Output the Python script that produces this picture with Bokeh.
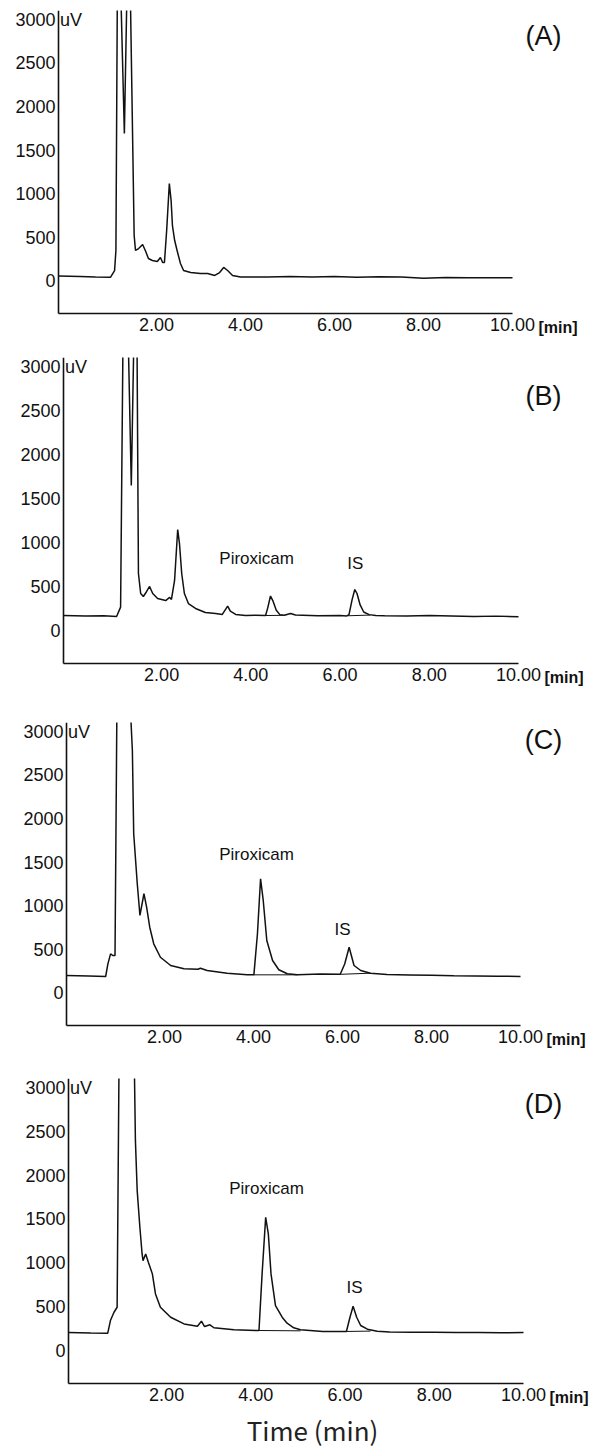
from bokeh.plotting import figure
from bokeh.layouts import column
from bokeh.models import Range1d, FixedTicker, Label
from bokeh.embed import file_html
from bokeh.resources import INLINE

# ---------------- data (time in min, signal in uV) ----------------
x_ticks = [2, 4, 6, 8, 10]
x_tick_labels = ["2.00", "4.00", "6.00", "8.00", "10.00"]
y_ticks = [0, 500, 1000, 1500, 2000, 2500, 3000]
y_tick_labels = ["0", "500", "1000", "1500", "2000", "2500", "3000"]

A_t = [-0.20, 0.29, 0.63, 0.97, 1.06, 1.09, 1.12, 1.16, 1.21, 1.28, 1.33, 1.37, 1.42, 1.50, 1.53,
       1.60, 1.69, 1.76, 1.82, 1.91, 2.02, 2.09, 2.14, 2.18, 2.23, 2.29, 2.33, 2.36, 2.41, 2.47,
       2.54, 2.61, 2.77, 2.99, 3.15, 3.31, 3.42, 3.51, 3.60, 3.71, 3.89, 4.5, 5.0, 5.5, 6.0, 6.5,
       7.0, 7.5, 8.0, 8.5, 9.0, 9.5, 10.0]
A_v = [55, 49, 44, 41, 118, 348, 3100, 6000, 3100, 1690, 3100, 6000, 3100, 520, 348,
       370, 416, 336, 256, 233, 221, 267, 210, 210, 577, 1116, 921, 634, 462, 336,
       198, 118, 95, 84, 84, 61, 95, 153, 118, 61, 44, 45, 48, 44, 50, 42,
       46, 44, 30, 38, 35, 36, 35]

B_t = [-0.20, 0.3, 0.7, 0.99, 1.08, 1.13, 1.19, 1.26, 1.32, 1.37, 1.40, 1.45, 1.48, 1.53, 1.59,
       1.66, 1.73, 1.80, 1.91, 2.09, 2.18, 2.22, 2.29, 2.36, 2.40, 2.45, 2.51, 2.60, 2.76, 2.98,
       3.21, 3.36, 3.48, 3.54, 3.66, 3.88, 4.10, 4.33, 4.38, 4.44, 4.50, 4.57, 4.65, 4.75, 4.89,
       5.0, 5.5, 6.0, 6.15, 6.20, 6.27, 6.33, 6.38, 6.45, 6.53, 6.65, 6.80, 7.0, 7.5, 8.0,
       8.5, 9.0, 9.5, 10.0]
B_v = [170, 165, 168, 159, 265, 3100, 6000, 3100, 1646, 3100, 6000, 3100, 647, 420, 386,
       440, 500, 420, 363, 340, 375, 352, 568, 1146, 987, 647, 420, 306, 250, 204,
       193, 182, 276, 219, 182, 170, 172, 170, 260, 392, 330, 230, 180, 172, 193,
       175, 168, 170, 165, 180, 350, 465, 420, 290, 210, 180, 170, 168, 165, 170,
       165, 160, 163, 155]

C_t = [-0.20, 0.3, 0.68, 0.73, 0.79, 0.84, 0.89, 0.93, 1.08, 1.25, 1.28, 1.31, 1.39, 1.45, 1.54,
       1.60, 1.67, 1.76, 1.91, 2.14, 2.44, 2.75, 2.81, 2.96, 3.41, 3.86, 4.01, 4.09, 4.16, 4.22,
       4.30, 4.43, 4.57, 4.76, 4.99, 5.5, 5.95, 6.05, 6.15, 6.26, 6.41, 6.63, 7.0, 7.5, 8.0,
       8.5, 9.0, 9.5, 10.0]
C_v = [198, 192, 187, 332, 447, 428, 428, 3100, 12000, 3100, 2779, 1824, 1250, 887, 1136,
       982, 752, 562, 408, 313, 275, 270, 282, 256, 225, 206, 206, 677, 1308, 1059,
       600, 370, 264, 218, 206, 215, 212, 330, 523, 313, 256, 225, 210, 205, 200,
       195, 192, 190, 188]

D_t = [-0.20, 0.3, 0.68, 0.74, 0.82, 0.89, 0.93, 1.10, 1.28, 1.30, 1.34, 1.40, 1.45, 1.47, 1.53,
       1.59, 1.68, 1.75, 1.86, 2.09, 2.39, 2.69, 2.78, 2.85, 2.97, 3.06, 3.51, 4.03, 4.07, 4.14,
       4.22, 4.28, 4.34, 4.44, 4.59, 4.70, 4.85, 5.00, 5.5, 6.03, 6.11, 6.18, 6.26, 6.35, 6.50,
       6.72, 7.0, 7.5, 8.0, 8.5, 9.0, 9.5, 10.0]
D_v = [205, 200, 198, 342, 437, 494, 3100, 12000, 3100, 2392, 1822, 1405, 1101, 1025, 1101,
       1007, 874, 646, 494, 380, 304, 278, 335, 274, 294, 260, 237, 229, 229, 874,
       1518, 1329, 874, 513, 380, 312, 260, 237, 218, 218, 380, 506, 380, 286, 244,
       221, 212, 208, 210, 205, 207, 203, 205]

# integration baselines drawn under the peaks: (t0, v0, t1, v1)
B_base = [(4.33, 170, 4.72, 172), (6.17, 167, 6.68, 175)]
C_base = [(4.01, 206, 4.99, 206), (5.95, 212, 6.63, 225)]
D_base = [(4.07, 229, 5.00, 225), (6.03, 218, 6.57, 222)]

# peak annotations: (text, t, v)
B_ann = [("Piroxicam", 4.13, 817), ("IS", 6.34, 760)]
C_ann = [("Piroxicam", 4.07, 1586), ("IS", 6.00, 726)]
D_ann = [("Piroxicam", 4.24, 1845), ("IS", 6.21, 718)]

panel_names = ["(A)", "(B)", "(C)", "(D)"]

# ---------------- layout ----------------
FONT = "Liberation Sans"
T0, T1 = -0.2, 10.0          # time axis extent
V0, V1 = -375, 3100          # signal axis extent
W = 604
PAGE_X0, PAGE_Y0 = 0, 0

# page-pixel geometry of each panel: figure top, figure height,
# axis left/right x, axis top/bottom y, panel-letter centre (px)
geo = [
    dict(t=A_t, v=A_v, base=[], ann=[], ft=0, h=347, L=58, R=512, T=10, B=313, let=(543, 35)),
    dict(t=B_t, v=B_v, base=B_base, ann=B_ann, ft=347, h=365, L=63, R=518, T=357, B=663, let=(543, 395)),
    dict(t=C_t, v=C_v, base=C_base, ann=C_ann, ft=712, h=356, L=66, R=520, T=722, B=1025, let=(543, 739)),
    dict(t=D_t, v=D_v, base=D_base, ann=D_ann, ft=1068, h=384, L=68, R=523, T=1078, B=1383, let=(543, 1103)),
]

figs = []
for i, g in enumerate(geo):
    kx = (g["R"] - g["L"]) / (T1 - T0)
    ky = (g["B"] - g["T"]) / (V1 - V0)
    xs = T0 - (g["L"] - PAGE_X0) / kx
    xe = T1 + (PAGE_X0 + W - g["R"]) / kx
    ys = V0 - (g["ft"] + g["h"] - g["B"]) / ky
    top_border = g["T"] - g["ft"]

    def px2t(px):
        return T0 + (px - g["L"]) / kx

    def py2v(py):
        return V0 + (g["B"] - py) / ky

    p = figure(width=W, height=g["h"], output_backend="svg", toolbar_location=None,
               x_range=Range1d(xs, xe), y_range=Range1d(ys, V1),
               min_border_top=top_border, min_border_bottom=0,
               min_border_left=0, min_border_right=0)
    p.outline_line_color = None
    p.grid.visible = False
    p.background_fill_color = "white"
    p.border_fill_color = "white"

    for ax in (p.xaxis[0], p.yaxis[0]):
        ax.axis_line_color = "#111111"
        ax.axis_line_width = 1.6
        ax.major_tick_line_color = None
        ax.minor_tick_line_color = None
        ax.major_tick_out = 0
        ax.major_tick_in = 0
        ax.major_label_text_font = FONT
        ax.major_label_text_font_size = "18px"
        ax.major_label_text_color = "#111111"
    xa, ya = p.xaxis[0], p.yaxis[0]
    xa.fixed_location = V0
    xa.bounds = (T0, T1)
    xa.ticker = FixedTicker(ticks=x_ticks)
    xa.major_label_overrides = dict(zip(x_ticks, x_tick_labels))
    xa.major_label_standoff = 4
    ya.fixed_location = T0
    ya.bounds = (V0, V1)
    ya.ticker = FixedTicker(ticks=y_ticks)
    ya.major_label_overrides = dict(zip(y_ticks, y_tick_labels))
    ya.major_label_standoff = 3

    p.line(g["t"], g["v"], line_color="#111111", line_width=1.5)
    for (t0, v0, t1, v1) in g["base"]:
        p.line([t0, t1], [v0, v1], line_color="#111111", line_width=1.0)

    for (txt, tx, vy) in g["ann"]:
        p.add_layout(Label(x=tx, y=vy, text=txt, text_align="center", text_baseline="middle",
                           text_font=FONT, text_font_size="17px", text_color="#111111"))

    p.add_layout(Label(x=T0 + 1.5 / kx, y=3000 - 1 / ky, text="uV", text_align="left",
                       text_baseline="middle", text_font=FONT, text_font_size="18px",
                       text_color="#111111"))
    p.add_layout(Label(x=T1 + 26 / kx, y=V0 - 5 / ky, text="[min]",
                       text_align="left", text_baseline="top", text_font=FONT,
                       text_font_size="16px", text_font_style="bold", text_color="#111111"))
    lx, ly = g["let"]
    p.add_layout(Label(x=px2t(lx), y=py2v(ly), text=panel_names[i], text_align="center",
                       text_baseline="middle", text_font=FONT, text_font_size="27px",
                       text_color="#111111"))
    if i == len(geo) - 1:
        p.add_layout(Label(x=px2t(312), y=py2v(1429), text="Time (min)", text_align="center",
                           text_baseline="middle", text_font="Noto Sans CJK KR",
                           text_font_size="26px", text_color="#222222"))
    figs.append(p)

layout = column(*figs, spacing=0)
open("out.html", "w").write(file_html(layout, INLINE))
